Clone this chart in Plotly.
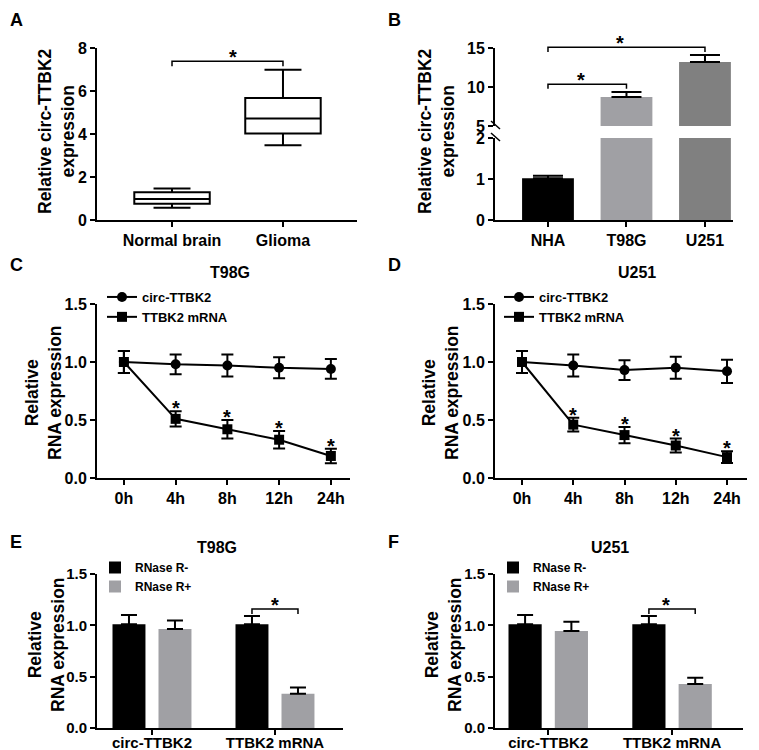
import plotly.graph_objects as go

W, H = 759, 750
OFF = 8  # page body margin offset of the rendered figure
FONT = "Liberation Sans, Arial, sans-serif"

# ---------------- data ----------------
# Panel A (box plot summary)
a_groups = ["Normal brain", "Glioma"]
a_lowerfence = [0.57, 3.48]
a_q1 = [0.75, 4.02]
a_median = [0.98, 4.72]
a_q3 = [1.29, 5.68]
a_upperfence = [1.46, 6.99]

# Panel B
b_cells = ["NHA", "T98G", "U251"]
b_values = [1.02, 8.72, 13.2]
b_errors = [0.06, 0.64, 0.9]
b_colors = ["#000000", "#a0a0a4", "#808080"]

# Panels C / D
times = ["0h", "4h", "8h", "12h", "24h"]
c_circ = [1.0, 0.98, 0.97, 0.95, 0.94]
c_circ_err = [0.095, 0.085, 0.095, 0.09, 0.085]
c_mrna = [1.0, 0.51, 0.42, 0.33, 0.19]
c_mrna_err = [0.095, 0.065, 0.08, 0.075, 0.063]
d_circ = [1.0, 0.97, 0.93, 0.95, 0.92]
d_circ_err = [0.095, 0.095, 0.086, 0.095, 0.1]
d_mrna = [1.0, 0.46, 0.37, 0.28, 0.18]
d_mrna_err = [0.095, 0.06, 0.07, 0.06, 0.05]

# Panels E / F
rna_types = ["circ-TTBK2", "TTBK2 mRNA"]
e_minus = [1.01, 1.01]
e_minus_err = [0.09, 0.08]
e_plus = [0.965, 0.334]
e_plus_err = [0.082, 0.061]
f_minus = [1.01, 1.01]
f_minus_err = [0.09, 0.08]
f_plus = [0.946, 0.428]
f_plus_err = [0.09, 0.062]


# ---------------- helpers (pixel positions of the reference -> paper) ----------------
def fx(p):
    return (p - OFF) / W


def fy(p):
    return 1 - (p - OFF) / H


def dx(p0, p1):
    return [fx(p0), fx(p1)]


def dy(ptop, pbot):
    return [fy(pbot), fy(ptop)]


def to_paper(dom, rng, v):
    return dom[0] + (v - rng[0]) / (rng[1] - rng[0]) * (dom[1] - dom[0])


AX = dict(showline=True, linecolor="black", linewidth=2, ticks="outside",
          ticklen=5, tickwidth=2, tickcolor="black", showgrid=False,
          zeroline=False, tickfont=dict(size=16, color="black"), mirror=False,
          automargin=False)

axes = {}
axes["xaxis"] = dict(domain=dx(97, 357), range=[-0.676, 1.667], tickvals=[0, 1],
                     ticktext=a_groups, anchor="y")
axes["yaxis"] = dict(domain=dy(48, 220), range=[0, 8], dtick=2, anchor="x")
axes["xaxis2"] = dict(domain=dx(495, 733), range=[-0.675, 2.357], tickvals=[0, 1, 2],
                      ticktext=b_cells, anchor="y2")
axes["yaxis2"] = dict(domain=dy(138, 220), range=[0, 2], dtick=1, anchor="x2")
axes["yaxis3"] = dict(domain=dy(48, 126), range=[5, 15], tickvals=[5, 10, 15], anchor="x2")
axes["xaxis4"] = dict(domain=dx(97, 350), range=[-0.52, 4.37], tickvals=list(range(5)),
                      ticktext=times, anchor="y4")
axes["yaxis4"] = dict(domain=dy(304, 478), range=[0, 1.5], dtick=0.5, tickformat=".1f",
                      anchor="x4")
axes["xaxis5"] = dict(domain=dx(495, 747), range=[-0.527, 4.39], tickvals=list(range(5)),
                      ticktext=times, anchor="y5")
axes["yaxis5"] = dict(domain=dy(304, 478), range=[0, 1.5], dtick=0.5, tickformat=".1f",
                      anchor="x5")
axes["xaxis6"] = dict(domain=dx(97, 343), range=[-0.447, 1.553], tickvals=[0, 1],
                      ticktext=rna_types, anchor="y6", tickfont=dict(size=15, color="black"),
                      ticklabelstandoff=-5)
axes["yaxis6"] = dict(domain=dy(574, 728), range=[0, 1.5], dtick=0.5, tickformat=".1f",
                      anchor="x6", tickfont=dict(size=15, color="black"))
axes["xaxis7"] = dict(domain=dx(495, 743), range=[-0.43, 1.573], tickvals=[0, 1],
                      ticktext=rna_types, anchor="y7", tickfont=dict(size=15, color="black"),
                      ticklabelstandoff=-5)
axes["yaxis7"] = dict(domain=dy(574, 728), range=[0, 1.5], dtick=0.5, tickformat=".1f",
                      anchor="x7", tickfont=dict(size=15, color="black"))

for k, v in axes.items():
    base = dict(AX)
    base.update(v)
    axes[k] = base

fig = go.Figure()

# ---------------- Panel A ----------------
fig.add_trace(go.Box(
    x=[0, 1], q1=a_q1, median=a_median, q3=a_q3,
    lowerfence=a_lowerfence, upperfence=a_upperfence,
    width=0.68, whiskerwidth=0.49, fillcolor="white",
    line=dict(color="black", width=2), boxpoints=False,
    xaxis="x", yaxis="y", showlegend=False))

# ---------------- Panel B (broken axis) ----------------
low_top = axes["yaxis2"]["range"][1]
b_err_low = [e if v <= low_top else 0 for v, e in zip(b_values, b_errors)]
b_err_up = [e if v > low_top else 0 for v, e in zip(b_values, b_errors)]
for yax, errs in (("y2", b_err_low), ("y3", b_err_up)):
    fig.add_trace(go.Bar(
        x=[0, 1, 2], y=b_values, width=0.66, marker=dict(color=b_colors, line=dict(width=0)),
        error_y=dict(type="data", array=errs, arrayminus=[0] * 3, symmetric=False,
                     color="black", thickness=2, width=15),
        xaxis="x2", yaxis=yax, showlegend=False))

# ---------------- Panels C / D ----------------
for xa, ya, circ, circ_e, mrna, mrna_e, leg in (
        ("x4", "y4", c_circ, c_circ_err, c_mrna, c_mrna_err, "legend"),
        ("x5", "y5", d_circ, d_circ_err, d_mrna, d_mrna_err, "legend2")):
    fig.add_trace(go.Scatter(
        x=list(range(len(times))), y=circ, mode="lines+markers", name="circ-TTBK2",
        line=dict(color="black", width=2), marker=dict(symbol="circle", size=10, color="black"),
        error_y=dict(type="data", array=circ_e, color="black", thickness=2, width=6),
        xaxis=xa, yaxis=ya, legend=leg, cliponaxis=False))
    fig.add_trace(go.Scatter(
        x=list(range(len(times))), y=mrna, mode="lines+markers", name="TTBK2 mRNA",
        line=dict(color="black", width=2), marker=dict(symbol="square", size=10, color="black"),
        error_y=dict(type="data", array=mrna_e, color="black", thickness=2, width=6),
        xaxis=xa, yaxis=ya, legend=leg, cliponaxis=False))

# ---------------- Panels E / F ----------------
half = 0.187
for xa, ya, mi, mi_e, pl, pl_e, leg in (
        ("x6", "y6", e_minus, e_minus_err, e_plus, e_plus_err, "legend3"),
        ("x7", "y7", f_minus, f_minus_err, f_plus, f_plus_err, "legend4")):
    fig.add_trace(go.Bar(
        x=[i - half for i in range(len(rna_types))], y=mi, width=0.268, name="RNase R-",
        marker=dict(color="#000000", line=dict(width=0)),
        error_y=dict(type="data", array=mi_e, arrayminus=[0] * 2, symmetric=False,
                     color="black", thickness=2, width=8),
        xaxis=xa, yaxis=ya, legend=leg))
    fig.add_trace(go.Bar(
        x=[i + half for i in range(len(rna_types))], y=pl, width=0.268, name="RNase R+",
        marker=dict(color="#a0a0a4", line=dict(width=0)),
        error_y=dict(type="data", array=pl_e, arrayminus=[0] * 2, symmetric=False,
                     color="black", thickness=2, width=8),
        xaxis=xa, yaxis=ya, legend=leg))

# ---------------- brackets & asterisks ----------------
shapes = []
annotations = []
STAR = dict(size=20, color="black")


def bracket(xk, yk, x0, x1, ytop, drop):
    xd, xr = axes[xk]["domain"], axes[xk]["range"]
    yd, yr = axes[yk]["domain"], axes[yk]["range"]
    px0, px1 = to_paper(xd, xr, x0), to_paper(xd, xr, x1)
    py = to_paper(yd, yr, ytop)
    pyd = to_paper(yd, yr, ytop - drop)
    shapes.append(dict(type="path", xref="paper", yref="paper",
                       path=f"M{px0},{pyd} L{px0},{py} L{px1},{py} L{px1},{pyd}",
                       line=dict(color="black", width=1.5)))
    annotations.append(dict(x=(px0 + px1) / 2, y=py, xref="paper", yref="paper",
                            text="*", showarrow=False, yanchor="bottom", yshift=-9,
                            font=STAR))


bracket("xaxis", "yaxis", 0, 1, a_upperfence[1] + 0.39, 0.23)
bracket("xaxis2", "yaxis3", 0, 1, b_values[1] + b_errors[1] + 1.0, 0.6)
bracket("xaxis2", "yaxis3", 0, 2, b_values[2] + b_errors[2] + 1.0, 0.6)
bracket("xaxis6", "yaxis6", 1 - half, 1 + half, e_minus[1] + e_minus_err[1] + 0.07, 0.05)
bracket("xaxis7", "yaxis7", 1 - half, 1 + half, f_minus[1] + f_minus_err[1] + 0.07, 0.05)

# asterisks above mRNA points (C/D)
for xa, ya, mrna, mrna_e in (("x4", "y4", c_mrna, c_mrna_err), ("x5", "y5", d_mrna, d_mrna_err)):
    for i in range(1, len(times)):
        annotations.append(dict(x=i, y=mrna[i] + mrna_e[i], xref=xa, yref=ya, text="*",
                                showarrow=False, yanchor="bottom", yshift=-10, font=STAR))

# axis break marks for panel B
bx = axes["xaxis2"]["domain"][0]
for py in (126, 138):
    shapes.append(dict(type="line", xref="paper", yref="paper",
                       x0=bx - 4 / W, x1=bx + 5 / W, y0=fy(py - 5), y1=fy(py + 3),
                       line=dict(color="black", width=1.5)))

# y-axis titles
for txt, x, y in (("Relative circ-TTBK2<br>expression", 56, 131),
                  ("Relative circ-TTBK2<br>expression", 436, 131),
                  ("Relative<br>RNA expression", 43, 393),
                  ("Relative<br>RNA expression", 440, 393),
                  ("Relative<br>RNA expression", 46, 645),
                  ("Relative<br>RNA expression", 443, 645)):
    annotations.append(dict(x=fx(x), y=fy(y), xref="paper", yref="paper",
                            text=txt, textangle=-90, showarrow=False,
                            xanchor="center", yanchor="middle",
                            font=dict(size=17.5, color="black")))

# panel titles
for txt, x, y in (("T98G", 230, 273), ("U251", 637, 273), ("T98G", 217, 547), ("U251", 610, 547)):
    annotations.append(dict(x=fx(x), y=fy(y), xref="paper", yref="paper", text=txt,
                            showarrow=False, xanchor="center", yanchor="middle",
                            font=dict(size=16, color="black")))

# panel letters
for txt, x, y in (("A", 8, 8), ("B", 386, 8), ("C", 8, 253), ("D", 386, 253),
                  ("E", 8, 530), ("F", 386, 530)):
    annotations.append(dict(x=fx(x), y=fy(y), xref="paper", yref="paper", text=txt,
                            showarrow=False, xanchor="left", yanchor="top",
                            font=dict(size=18, color="black")))

leg_common = dict(bgcolor="rgba(0,0,0,0)", xanchor="left", yanchor="top",
                  font=dict(size=13, color="black"), tracegroupgap=0)
legE = dict(leg_common, font=dict(size=12, color="black"))

fig.update_layout(
    width=W, height=H, margin=dict(l=0, r=0, t=0, b=0, pad=0, autoexpand=False),
    paper_bgcolor="white", plot_bgcolor="white",
    font=dict(family=FONT, color="black", weight="bold"),
    barmode="overlay",
    shapes=shapes, annotations=annotations,
    legend=dict(leg_common, x=fx(102), y=fy(282)),
    legend2=dict(leg_common, x=fx(499), y=fy(282)),
    legend3=dict(legE, x=fx(95), y=fy(553)),
    legend4=dict(legE, x=fx(493), y=fy(553)),
    **axes,
)

fig.write_html("out.html")
